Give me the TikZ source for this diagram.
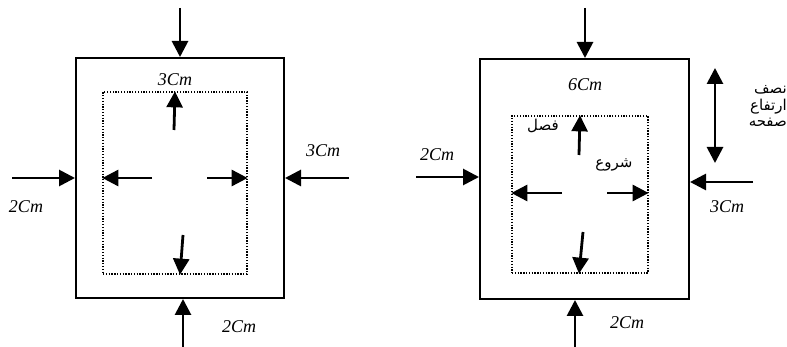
\documentclass[tikz,border=0pt]{standalone}
\usepackage{fontspec}
\setmainfont{Liberation Serif}
\newfontfamily\arabicfont[Script=Arabic]{DejaVu Sans}
\TeXXeTstate=1
\usetikzlibrary{arrows.meta}
\begin{document}
\begin{tikzpicture}[x=1pt, y=-1pt,
    pageStyle/.style={rectangle, draw, line width=2pt, inner sep=0pt},
    marginStyle/.style={rectangle, draw, line width=1.3pt, dash pattern=on 1.3pt off 1.5pt, inner sep=0pt},
    arrowStyle/.style={line width=2.8pt, -{Triangle[length=16pt, width=16pt]}},
    twoWayStyle/.style={line width=2.8pt, {Triangle[length=16pt, width=16pt]}-{Triangle[length=16pt, width=16pt]}},
    sizeStyle/.style={font=\fontsize{18}{20}\selectfont\itshape, inner sep=0pt},
    farsiStyle/.style={font=\fontsize{15}{16.5}\selectfont\arabicfont, inner sep=0pt, align=right}]
                    \useasboundingbox (0,0) rectangle (787,347);

                    % left sheet
                    \node[pageStyle, minimum width=208pt, minimum height=240pt]   (pageL)   at (180, 178)   {};
                    \node[marginStyle, minimum width=144pt, minimum height=182pt] (innerL)  at (175, 183)   {};

                    \coordinate (topL)   at (180, 8);
                    \coordinate (botL)   at (183, 347);
                    \coordinate (leftL)  at (12, 178);
                    \coordinate (rightL) at (349, 178);

                    \coordinate (upL)    at (174, 130);
                    \coordinate (downL)  at (183, 235);
                    \coordinate (westL)  at (152, 178);
                    \coordinate (eastL)  at (207, 178);

                    \node[sizeStyle] (topL_t)   at (175, 80)  {3Cm};
                    \node[sizeStyle] (rightL_t) at (323, 151) {3Cm};
                    \node[sizeStyle] (leftL_t)  at (26, 207)  {2Cm};
                    \node[sizeStyle] (botL_t)   at (239, 327) {2Cm};

                    \draw[arrowStyle] (topL)   -- (pageL.north);
                    \draw[arrowStyle] (botL)   -- (botL |- pageL.south);
                    \draw[arrowStyle] (leftL)  -- (pageL.west);
                    \draw[arrowStyle] (rightL) -- (pageL.east);

                    \draw[arrowStyle] (upL)    -- (innerL.north);
                    \draw[arrowStyle] (downL)  -- ([xshift=5pt]innerL.south);
                    \draw[arrowStyle] (westL)  -- (westL -| innerL.west);
                    \draw[arrowStyle] (eastL)  -- (eastL -| innerL.east);

                    % right sheet
                    \node[pageStyle, minimum width=209pt, minimum height=240pt]   (pageR)   at (584.5, 179) {};
                    \node[marginStyle, minimum width=136pt, minimum height=157pt] (innerR)  at (580, 194.5) {};

                    \coordinate (topR)   at (585, 8);
                    \coordinate (botR)   at (575, 347);
                    \coordinate (leftR)  at (416, 177);
                    \coordinate (rightR) at (753, 182);
                    \coordinate (halfA)  at (715, 68);
                    \coordinate (halfB)  at (715, 163);

                    \coordinate (upR)    at (579, 155);
                    \coordinate (downR)  at (583, 232);
                    \coordinate (westR)  at (562, 193);
                    \coordinate (eastR)  at (607, 193);

                    \node[sizeStyle] (topR_t)   at (585, 85)  {6Cm};
                    \node[sizeStyle] (leftR_t)  at (437, 155) {2Cm};
                    \node[sizeStyle] (rightR_t) at (727, 207) {3Cm};
                    \node[sizeStyle] (botR_t)   at (627, 323) {2Cm};

                    \node[farsiStyle] (gap_t)   at (543, 126) {\beginR فصل\endR};
                    \node[farsiStyle] (start_t) at (614, 165) {\beginR شروع\endR};
                    \node[farsiStyle, anchor=east] (half_t) at (787, 106)
                        {\beginR نصف\endR\\ \beginR ارتفاع\endR\\ \beginR صفحه\endR};

                    \draw[arrowStyle] (topR)   -- (topR |- pageR.north);
                    \draw[arrowStyle] (botR)   -- (botR |- pageR.south);
                    \draw[arrowStyle] (leftR)  -- (leftR -| pageR.west);
                    \draw[arrowStyle] (rightR) -- (rightR -| pageR.east);
                    \draw[twoWayStyle] (halfA) -- (halfB);

                    \draw[arrowStyle] (upR)    -- (innerR.north);
                    \draw[arrowStyle] (downR)  -- ([xshift=-1pt]innerR.south);
                    \draw[arrowStyle] (westR)  -- (westR -| innerR.west);
                    \draw[arrowStyle] (eastR)  -- (eastR -| innerR.east);
                \end{tikzpicture}
\end{document}
